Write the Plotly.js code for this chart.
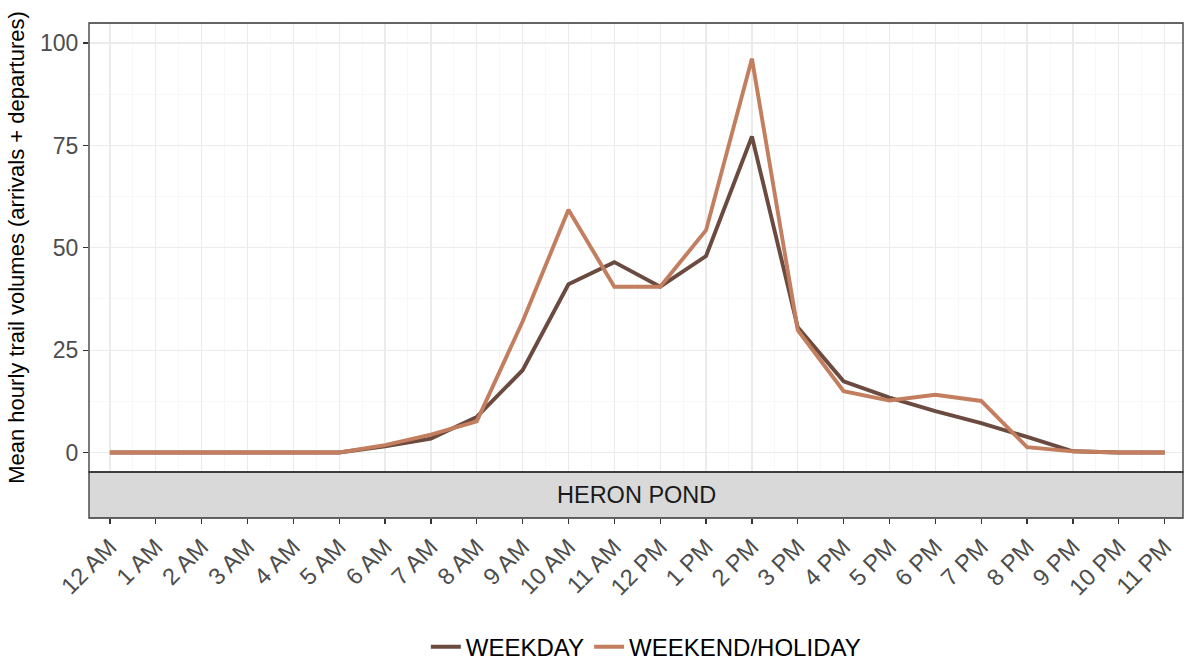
<!DOCTYPE html>
<html>
<head>
<meta charset="utf-8">
<script src="https://cdn.plot.ly/plotly-3.0.1.min.js"></script>
<style>html,body{margin:0;padding:0;background:#fff;}#chart{width:1184px;height:660px;}</style>
</head>
<body>
<div id="chart"></div>
<script>
// Data
const hourLabels = ["12 AM","1 AM","2 AM","3 AM","4 AM","5 AM","6 AM","7 AM","8 AM","9 AM","10 AM","11 AM",
  "12 PM","1 PM","2 PM","3 PM","4 PM","5 PM","6 PM","7 PM","8 PM","9 PM","10 PM","11 PM"];
const hours = [0,1,2,3,4,5,6,7,8,9,10,11,12,13,14,15,16,17,18,19,20,21,22,23];
const weekday = [0,0,0,0,0,0,1.5,3.4,8.7,20.1,41.1,46.5,40.5,48.0,77.2,30.6,17.4,13.4,10.1,7.2,3.8,0.3,0,0];
const weekend = [0,0,0,0,0,0,1.8,4.4,7.6,32.0,59.3,40.5,40.5,54.3,96.2,29.9,15.0,12.7,14.1,12.6,1.3,0.3,0,0];
const seriesNames = ["WEEKDAY","WEEKEND/HOLIDAY"];
const facetLabel = "HERON POND";
const yTitle = "Mean hourly trail volumes (arrivals + departures)";

const colDark = "#6B4A3F";
const colLight = "#C27E5E";

const stripFrac = 46/495;

const traces = [
  {x: hours, y: weekday, name: seriesNames[0], type: "scatter", mode: "lines",
   line: {color: colDark, width: 3.9}, xaxis: "x", yaxis: "y"},
  {x: hours, y: weekend, name: seriesNames[1], type: "scatter", mode: "lines",
   line: {color: colLight, width: 3.9}, xaxis: "x", yaxis: "y"}
];

const layout = {
  width: 1184, height: 660,
  margin: {l: 89, r: 1, t: 23, b: 142, autoexpand: false},
  paper_bgcolor: "#fff", plot_bgcolor: "#fff",
  font: {family: "Liberation Sans, Arial, sans-serif", color: "#4D4D4D"},
  showlegend: true,
  legend: {orientation: "h", x: 0.509, xanchor: "center", y: -0.261, yanchor: "middle",
           font: {size: 24, color: "#000"}, itemwidth: 30, tracegroupgap: 0, bgcolor: "rgba(0,0,0,0)"},
  xaxis: {
    range: [-0.455, 23.4], anchor: "free", position: 0,
    tickmode: "array", tickvals: hours, ticktext: hourLabels, tickangle: -45,
    tickfont: {size: 23.5, color: "#4D4D4D"},
    ticks: "outside", ticklen: 5, tickcolor: "#333", tickwidth: 1.3,
    showgrid: true, gridcolor: "#EBEBEB", gridwidth: 1.3,
    minor: {tickmode: "array", tickvals: hours.map(h => h + 0.5), showgrid: true, gridcolor: "#F5F5F5", gridwidth: 0.7, ticks: ""},
    zeroline: false, showline: false, fixedrange: true, automargin: false
  },
  yaxis: {
    domain: [stripFrac, 1], range: [-4.75, 104.9],
    tickvals: [0,25,50,75,100], ticktext: ["0","25","50","75","100"],
    tickfont: {size: 23, color: "#4D4D4D"},
    ticks: "outside", ticklen: 5, tickcolor: "#333", tickwidth: 1.3,
    showgrid: true, gridcolor: "#EBEBEB", gridwidth: 1.3,
    minor: {tickmode: "array", tickvals: [12.5, 37.5, 62.5, 87.5], showgrid: true, gridcolor: "#F5F5F5", gridwidth: 0.7, ticks: ""},
    zeroline: false, showline: false, automargin: false,
    title: {text: yTitle, font: {size: 22, color: "#000"}, standoff: 9},
    fixedrange: true
  },
  shapes: [
    {type: "rect", xref: "paper", yref: "paper", x0: 0, x1: 1, y0: 0, y1: stripFrac,
     fillcolor: "#D9D9D9", line: {color: "#333", width: 1.3}, layer: "above"},
    {type: "rect", xref: "paper", yref: "paper", x0: 0, x1: 1, y0: stripFrac, y1: 1,
     fillcolor: "rgba(0,0,0,0)", line: {color: "#333", width: 1.3}, layer: "above"}
  ],
  annotations: [
    {text: facetLabel, xref: "paper", yref: "paper", x: 0.5, y: stripFrac/2, xanchor: "center", yanchor: "middle",
     showarrow: false, font: {size: 23.5, color: "#1A1A1A"}}
  ]
};

Plotly.newPlot("chart", traces, layout, {displayModeBar: false, staticPlot: true});
</script>
</body>
</html>
